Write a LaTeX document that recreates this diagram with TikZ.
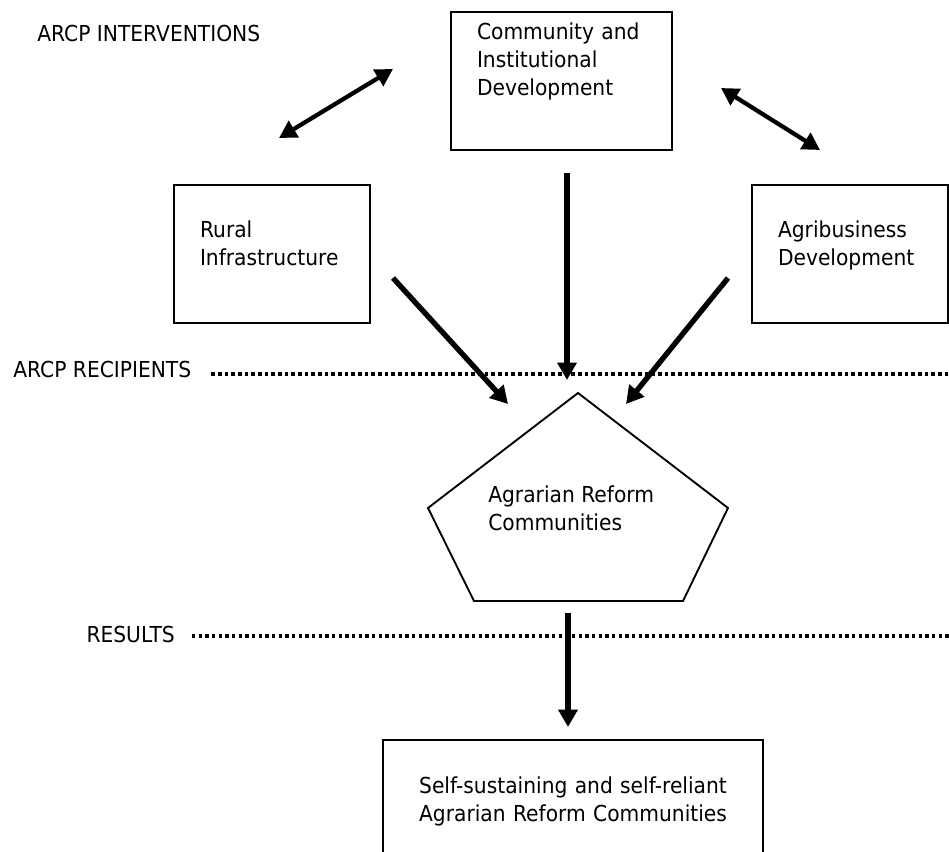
\documentclass[tikz,border=0pt]{standalone}
\usepackage{fontspec}
\setmainfont{DejaVu Sans}[FakeStretch=0.92]
\usetikzlibrary{arrows.meta}

\begin{document}
\begin{tikzpicture}[x=0.75pt, y=-0.75pt,
  font=\fontsize{16.5pt}{21pt}\selectfont,
  box/.style={draw, line width=1.4pt, inner xsep=19.5pt, inner ysep=0pt, outer sep=0pt, align=left, anchor=base west},
  sidebox/.style={box, text width=108pt, text height=39.75pt, text depth=63.75pt},
  flow/.style={line width=4pt, -{Triangle[length=13pt, width=14pt]}},
  link/.style={line width=3.2pt, {Triangle[length=13pt, width=14pt]}-{Triangle[length=13pt, width=14pt]}},
  level/.style={line width=2.6pt, dash pattern=on 2.6pt off 2.4pt},
  tag/.style={anchor=base west, inner sep=0pt}]
\useasboundingbox (0,0) rectangle (949,852);

% Section labels
\node[tag] (interv) at (37,42) {ARCP INTERVENTIONS};
\node[tag] (recip) at (13,377) {ARCP RECIPIENTS};
\node[tag, anchor=base east] (result) at (175,642) {RESULTS};

% Interventions
\node[box, text width=126.75pt, text height=21pt, text depth=82.5pt] (cid) at (451,40) {Community and\\Institutional\\Development};
\node[sidebox] (rural) at (174,238) {Rural\\Infrastructure};
\node[sidebox] (agri) at (752,238) {Agribusiness\\Development};

% Recipients (pentagon)
\coordinate (ptop) at (578,393);
\coordinate (pright) at (728,508);
\coordinate (pbr) at (683,601);
\coordinate (pbl) at (474,601);
\coordinate (pleft) at (428,508);
\draw[line width=1.4pt, line join=miter] (ptop) -- (pright) -- (pbr) -- (pbl) -- (pleft) -- cycle;
\node[tag, align=left] (arc) at (488,530) {Agrarian Reform\\Communities};

% Results
\node[box, align=center, inner xsep=0pt, text width=285pt, text height=39.75pt, text depth=65.25pt] (goal) at (383,793) {Self-sustaining and self-reliant\\Agrarian Reform Communities};

% Dotted levels
\coordinate (recipend) at (949,374);
\coordinate (resultend) at (949,636);
\draw[level] (recipend -| recip.east) ++(20,0) -- (recipend);
\draw[level] (resultend -| result.east) ++(17,0) -- (resultend);

% Arrow ends
\coordinate (cidout) at (567,173);
\coordinate (cidin) at (567,380);
\coordinate (ruralout) at (393,278);
\coordinate (ruralin) at (508,404);
\coordinate (agriout) at (728,278);
\coordinate (agriin) at (626,404);
\coordinate (arcout) at (568,613);
\coordinate (goalin) at (568,727);
\coordinate (linkl1) at (279,138);
\coordinate (linkl2) at (393,69);
\coordinate (linkr1) at (721,88);
\coordinate (linkr2) at (820,150);

% Arrows
\draw[link] (linkl1) -- (linkl2);
\draw[link] (linkr1) -- (linkr2);
\draw[flow] (cidout) -- (cidin);
\draw[flow] (ruralout) -- (ruralin);
\draw[flow] (agriout) -- (agriin);
\draw[flow] (arcout) -- (goalin);
\end{tikzpicture}
\end{document}
